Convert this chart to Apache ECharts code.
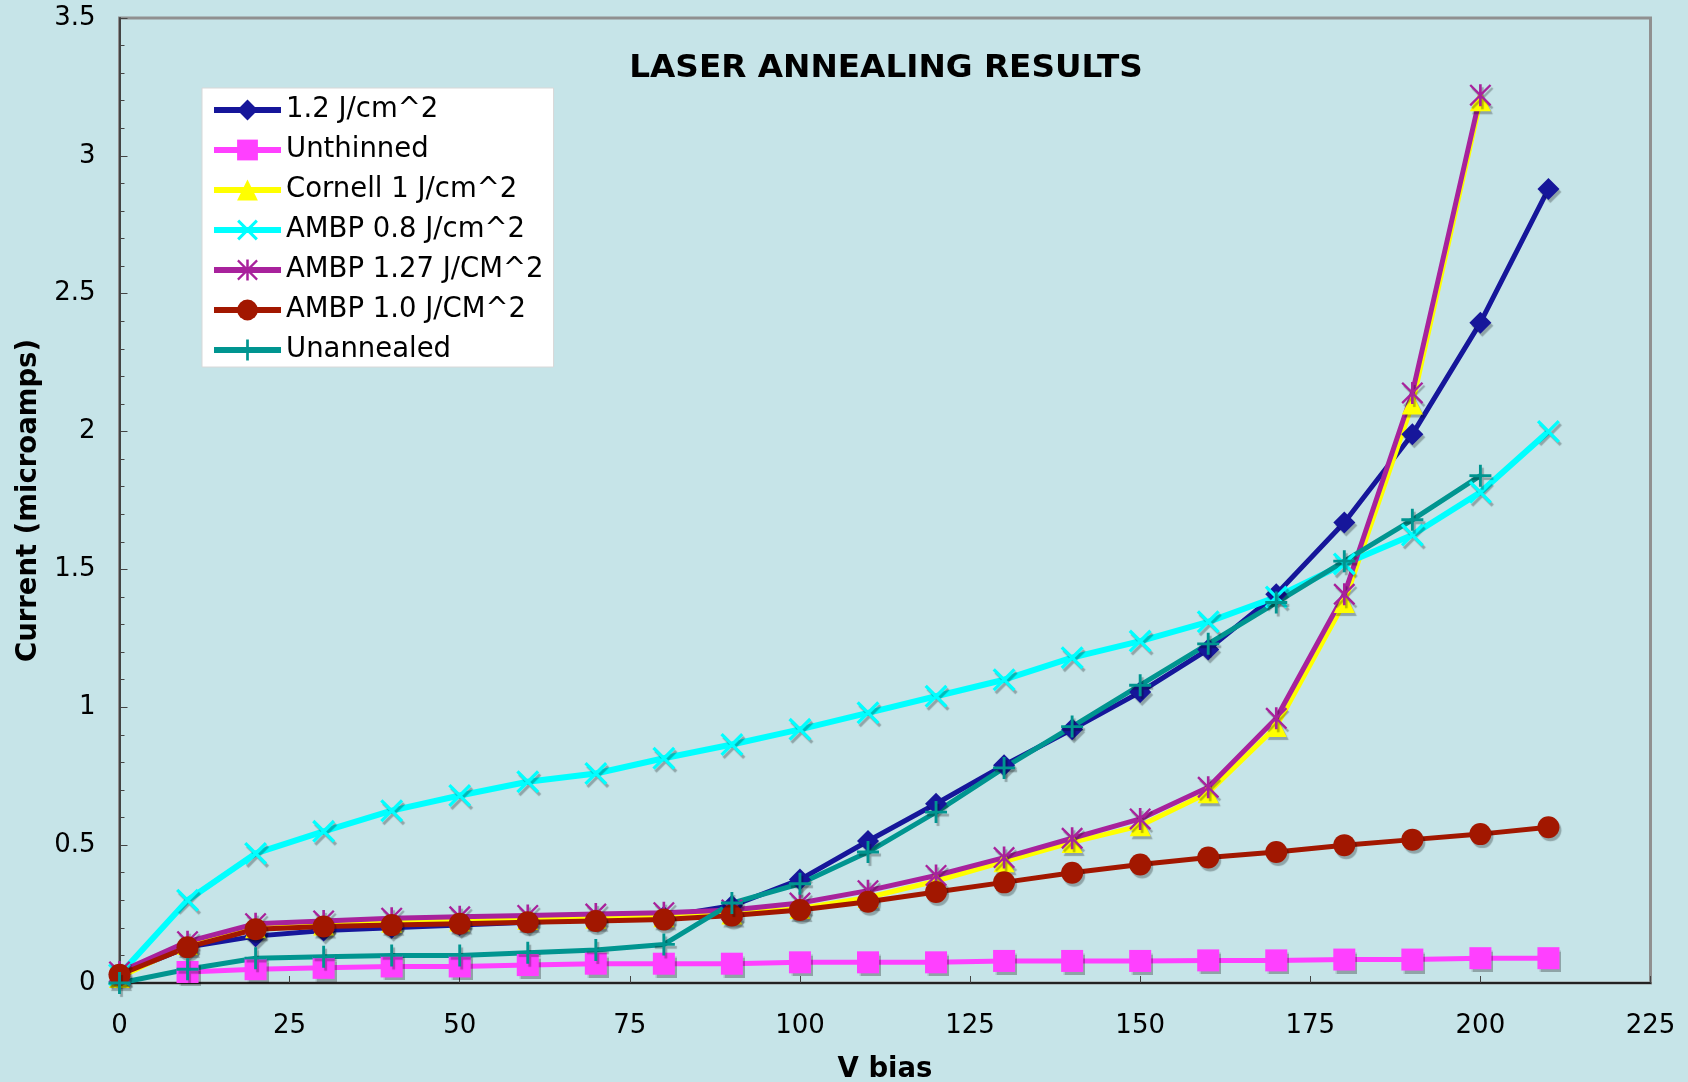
<!DOCTYPE html>
<html>
<head>
<meta charset="utf-8">
<script src="https://cdn.jsdelivr.net/npm/echarts@6/dist/echarts.min.js"></script>
<style>
html,body{margin:0;padding:0;background:#C6E4E8;}
#chart{width:1688px;height:1082px;}
</style>
</head>
<body>
<div id="chart"></div>
<script>
// ---- data ----
const vbias = [0,10,20,30,40,50,60,70,80,90,100,110,120,130,140,150,160,170,180,190,200,210];
const vbiasUnthinned = [10,20,30,40,50,60,70,80,90,100,110,120,130,140,150,160,170,180,190,200,210];
const vbiasTo200 = [0,10,20,30,40,50,60,70,80,90,100,110,120,130,140,150,160,170,180,190,200];

const j12 = [0.03,0.13,0.17,0.19,0.20,0.21,0.22,0.23,0.24,0.28,0.375,0.515,0.65,0.79,0.92,1.055,1.21,1.41,1.67,1.99,2.395,2.88];
const unthinned = [0.04,0.05,0.055,0.06,0.06,0.065,0.07,0.07,0.07,0.075,0.075,0.075,0.08,0.08,0.08,0.082,0.082,0.085,0.085,0.09,0.09];
const cornell = [0.02,0.14,0.20,0.21,0.22,0.225,0.23,0.235,0.24,0.25,0.27,0.31,0.37,0.44,0.51,0.57,0.69,0.93,1.38,2.10,3.20];
const ambp08 = [0.03,0.30,0.47,0.55,0.625,0.68,0.73,0.76,0.815,0.865,0.92,0.98,1.04,1.10,1.18,1.24,1.31,1.40,1.52,1.625,1.78,2.00];
const ambp127 = [0.04,0.15,0.215,0.225,0.235,0.24,0.245,0.25,0.255,0.265,0.29,0.335,0.39,0.455,0.525,0.595,0.71,0.96,1.41,2.14,3.22];
const ambp10 = [0.03,0.13,0.195,0.205,0.21,0.215,0.22,0.225,0.23,0.245,0.265,0.295,0.33,0.365,0.40,0.43,0.455,0.475,0.50,0.52,0.54,0.565];
const unannealed = [0.0,0.05,0.09,0.095,0.10,0.10,0.11,0.12,0.14,0.29,0.36,0.475,0.62,0.78,0.93,1.08,1.23,1.38,1.53,1.68,1.84];

const xTicks = [0,25,50,75,100,125,150,175,200,225];
const yTicks = [0,0.5,1,1.5,2,2.5,3,3.5];

const names = ['1.2 J/cm^2','Unthinned','Cornell 1 J/cm^2','AMBP 0.8 J/cm^2','AMBP 1.27 J/CM^2','AMBP 1.0 J/CM^2','Unannealed'];

// ---- symbols ----
const xPath = 'path://M-10,-8 L-8,-10 L10,8 L8,10 Z M8,-10 L10,-8 L-8,10 L-10,8 Z';
const plusPath = 'path://M-1.3,-10 L1.3,-10 L1.3,10 L-1.3,10 Z M-10,-1.3 L10,-1.3 L10,1.3 L-10,1.3 Z';
const starPath = 'path://M-10,-8.5 L-8.5,-10 L10,8.5 L8.5,10 Z M8.5,-10 L10,-8.5 L-8.5,10 L-10,8.5 Z M-1.2,-10 L1.2,-10 L1.2,10 L-1.2,10 Z';

function pairs(xs, ys){ return xs.map((x,i)=>[x, ys[i]]); }

const FONT = 'DejaVu Sans, Verdana, sans-serif';
const shadow = {shadowColor:'rgba(0,0,0,0.28)', shadowOffsetX:2, shadowOffsetY:3, shadowBlur:1};

function mk(name, data, color, symbol, size, lw){
  return {
    name, type:'line', data, symbol, symbolSize:size,
    lineStyle:{color, width:lw},
    itemStyle:Object.assign({color}, shadow),
    emphasis:{disabled:true},
    animation:false, z:2
  };
}

const chart = echarts.init(document.getElementById('chart'), null, {renderer:'canvas'});
chart.setOption({
  backgroundColor:'#C6E4E8',
  animation:false,
  title:{
    text:'LASER ANNEALING RESULTS',
    left:881, top:47, textAlign:'center',
    textStyle:{fontFamily:FONT, fontWeight:'bold', fontSize:32.7, color:'#000'}
  },
  legend:{
    data:names,
    orient:'vertical',
    left:202, top:88,
    backgroundColor:'#ffffff',
    borderColor:'#d8d8d8', borderWidth:1,
    padding:[8,10,3,9],
    itemWidth:67, itemHeight:26, itemGap:12,
    lineStyle:{width:6},
    textStyle:{fontFamily:FONT, fontSize:27.5, color:'#000', lineHeight:26},
    selectedMode:false
  },
  grid:{
    left:119.5, right:37.5, top:18, bottom:99,
    outerBoundsMode:'none', containLabel:false,
    show:true, borderColor:'#909090', borderWidth:3, backgroundColor:'transparent'
  },
  xAxis:{
    type:'value', min:0, max:225, interval:25,
    name:'V bias', nameLocation:'middle', nameGap:73,
    nameTextStyle:{fontFamily:FONT, fontWeight:'bold', fontSize:27.5, color:'#000'},
    axisLine:{show:true, onZero:false, lineStyle:{color:'#222', width:2}},
    axisTick:{show:true, inside:true, length:7, lineStyle:{color:'#444', width:1}},
    axisLabel:{fontFamily:FONT, fontSize:26, color:'#000', margin:30,
      formatter:v=> xTicks.includes(v) ? String(v) : ''},
    splitLine:{show:false}
  },
  yAxis:{
    type:'value', min:0, max:3.5, interval:0.5,
    name:'Current (microamps)', nameLocation:'middle', nameGap:77,
    nameTextStyle:{fontFamily:FONT, fontWeight:'bold', fontSize:27.5, color:'#000'},
    axisLine:{show:true, onZero:false, lineStyle:{color:'#444', width:2}},
    axisTick:{show:true, inside:true, length:8, lineStyle:{color:'#444', width:1}},
    minorTick:{show:true, splitNumber:5, length:5, lineStyle:{color:'#444', width:1}},
    axisLabel:{fontFamily:FONT, fontSize:26, color:'#000', margin:24,
      formatter:v=> yTicks.includes(v) ? String(v) : ''},
    splitLine:{show:false}
  },
  series:[
    mk(names[0], pairs(vbias, j12), '#16169A', 'diamond', 22, 5),
    mk(names[1], pairs(vbiasUnthinned, unthinned), '#FF40FF', 'rect', 22, 5),
    mk(names[2], pairs(vbiasTo200, cornell), '#FFFF00', 'triangle', 21, 5),
    mk(names[3], pairs(vbias, ambp08), '#00FFFF', xPath, 23, 6),
    mk(names[4], pairs(vbiasTo200, ambp127), '#A8229C', starPath, 22, 5),
    mk(names[5], pairs(vbias, ambp10), '#A21700', 'circle', 22, 5),
    mk(names[6], pairs(vbiasTo200, unannealed), '#009590', plusPath, 22, 5)
  ]
});
</script>
</body>
</html>
